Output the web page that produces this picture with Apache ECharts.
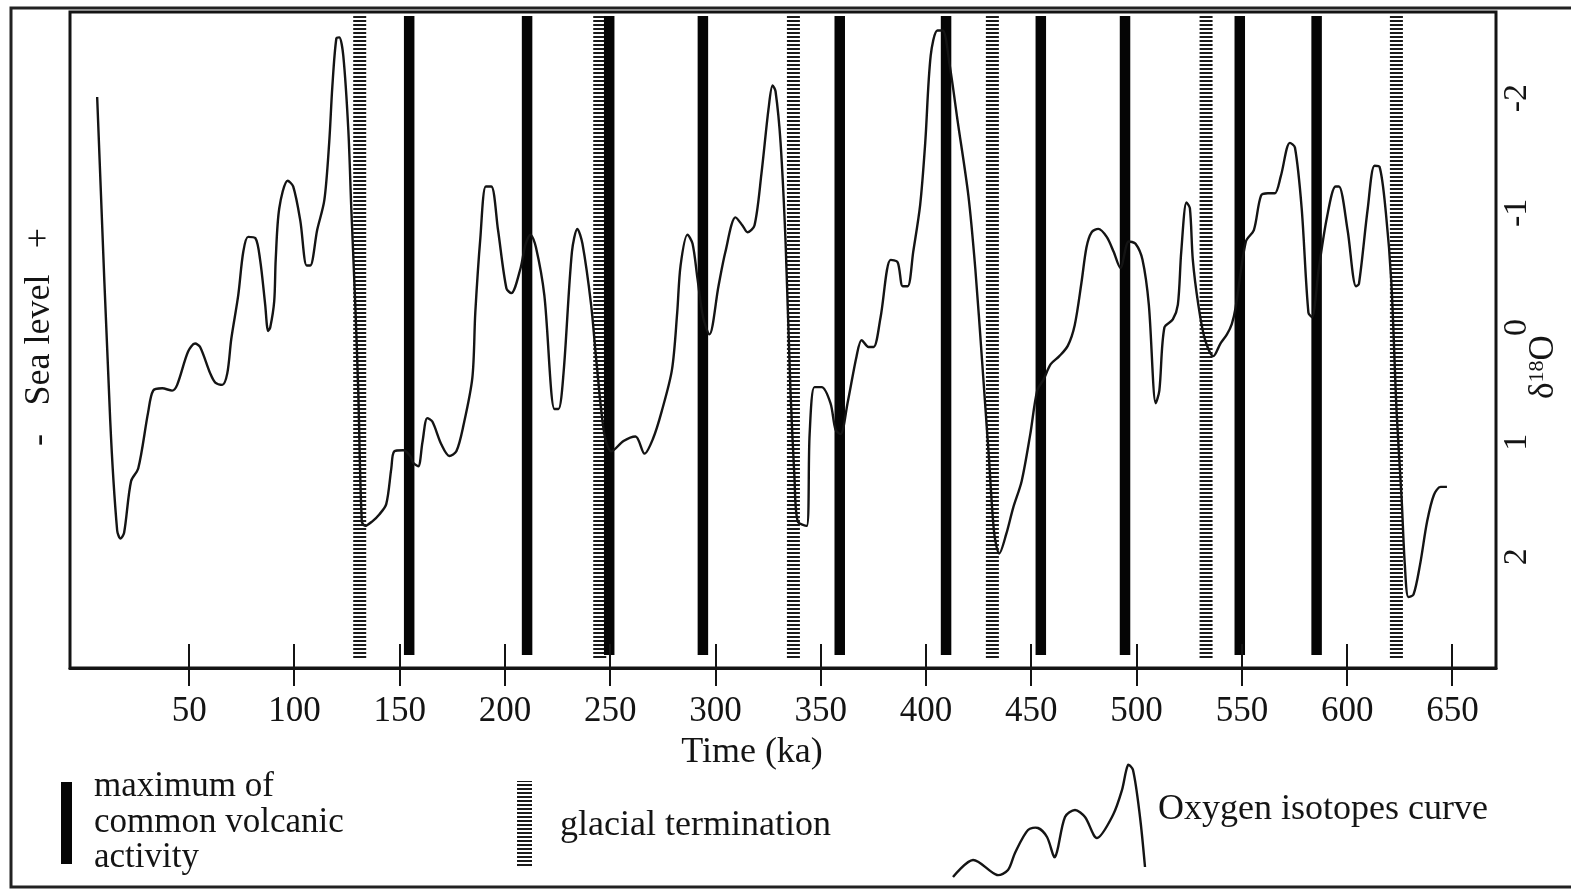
<!DOCTYPE html>
<html>
<head>
<meta charset="utf-8">
<script src="https://cdn.jsdelivr.net/npm/echarts@6/dist/echarts.min.js"></script>
<style>
html,body{margin:0;padding:0;background:#ffffff;}
#chart{width:1571px;height:891px;}
</style>
</head>
<body>
<div id="chart"></div>
<script>
// ---- data ----
var xTicks = [50,100,150,200,250,300,350,400,450,500,550,600,650];
var yTicks = [-2,-1,0,1,2];
// maximum of common volcanic activity (ka)
var volcanicMax = [154.5,210.5,249.5,294,359,409.5,454.5,494.5,549,585.5];
// glacial terminations (ka)
var glacialTermination = [131,245,337,431.5,533,623.4];
// oxygen isotope curve: age (ka) and delta18O
var isoAge = [6.3,12.5,15.8,17.4,19.1,22.4,25.8,30.5,32.9,37.2,41.9,44.3,49.5,52.8,55.2,60.0,62.4,65.7,68.1,70.0,73.3,75.7,78.0,81.4,83.7,86.1,87.5,88.5,90.4,91.1,92.8,96.8,99.4,102.8,105.8,107.5,110.8,114.2,116.5,118.0,119.9,121.3,123.2,125.6,127.0,128.9,130.3,132.0,133.6,137.0,140.3,143.6,146.0,147.4,151.7,155.0,156.4,158.8,160.8,163.1,165.5,169.8,173.6,176.9,180.2,184.5,185.9,188.3,190.9,193.5,196.7,200.7,203.0,207.3,209.7,212.1,214.7,218.7,223.5,225.4,227.8,231.8,234.4,236.8,240.9,243.4,247.2,250.6,256.3,262.0,266.3,270.3,274.3,279.3,281.8,283.4,286.7,289.1,291.4,294.1,297.1,301.4,304.7,309.5,312.8,315.2,318.5,321.8,325.2,327.1,328.5,330.9,333.3,335.6,337.5,339.0,343.3,344.7,347.0,350.4,354.6,357.0,359.4,362.7,367.0,369.4,372.7,375.1,378.4,383.2,386.5,388.9,391.3,393.9,397.2,399.6,402.2,405.4,407.9,411.2,415.0,420.1,423.4,426.6,429.8,432.4,434.8,438.1,441.4,445.4,449.5,452.8,455.9,459.2,463.3,467.3,470.6,473.8,476.2,478.6,481.8,485.8,489.1,492.3,496.3,499.5,502.8,505.8,509.1,510.8,513.2,517.2,519.6,521.2,523.7,525.3,526.7,529.3,532.4,536.5,539.8,542.9,545.2,547.0,551.9,555.7,559.1,562.4,565.6,568.5,572.8,575.2,578.4,581.6,583.3,586.5,590.4,594.5,596.1,600.2,604.2,605.6,609.8,613.0,615.4,618.4,621.0,623.5,625.9,627.4,629.1,631.5,634.6,638.0,641.2,644.4,647.4];
var isoValue = [-2.01,0.81,1.77,1.84,1.79,1.34,1.23,0.74,0.55,0.53,0.55,0.50,0.21,0.14,0.17,0.40,0.48,0.50,0.40,0.10,-0.28,-0.66,-0.79,-0.78,-0.59,-0.20,0.03,0.00,-0.23,-0.59,-1.04,-1.28,-1.23,-0.93,-0.54,-0.54,-0.85,-1.11,-1.61,-2.10,-2.52,-2.53,-2.37,-1.72,-1.04,-0.20,0.55,1.69,1.73,1.69,1.63,1.54,1.23,1.08,1.07,1.12,1.18,1.21,1.00,0.79,0.82,1.02,1.12,1.08,0.86,0.44,-0.13,-0.78,-1.23,-1.23,-0.85,-0.34,-0.30,-0.51,-0.72,-0.81,-0.70,-0.28,0.71,0.71,0.40,-0.66,-0.86,-0.73,-0.20,0.29,0.93,1.08,0.99,0.95,1.10,0.97,0.74,0.37,-0.13,-0.54,-0.81,-0.73,-0.43,-0.09,0.06,-0.36,-0.66,-0.96,-0.89,-0.83,-0.89,-1.34,-1.91,-2.11,-2.06,-1.61,-0.73,0.55,1.31,1.69,1.73,0.93,0.52,0.52,0.66,0.89,0.93,0.66,0.25,0.11,0.17,0.17,-0.09,-0.59,-0.57,-0.36,-0.36,-0.66,-1.07,-1.61,-2.37,-2.59,-2.59,-2.29,-1.80,-1.15,-0.51,0.29,1.12,1.80,1.97,1.80,1.57,1.34,0.93,0.55,0.45,0.32,0.25,0.16,-0.02,-0.39,-0.70,-0.83,-0.86,-0.79,-0.66,-0.52,-0.75,-0.73,-0.59,-0.20,0.66,0.55,0.00,-0.07,-0.20,-0.66,-1.09,-1.04,-0.59,-0.20,0.10,0.25,0.14,0.06,-0.03,-0.17,-0.75,-0.85,-1.15,-1.17,-1.17,-1.32,-1.61,-1.57,-1.04,-0.13,-0.09,-0.51,-0.96,-1.23,-1.23,-0.85,-0.36,-0.38,-1.04,-1.41,-1.40,-1.00,-0.39,0.74,1.50,2.07,2.35,2.33,2.07,1.69,1.46,1.39,1.39];

// ---- styles ----
var FONT = '"Liberation Serif", "DejaVu Serif", serif';
var INK = '#141414';

function hatchPattern(){
  var c = document.createElement('canvas');
  c.width = 4; c.height = 4;
  var g = c.getContext('2d');
  g.fillStyle = '#ffffff'; g.fillRect(0,0,4,4);
  g.fillStyle = '#1a1a1a'; g.fillRect(0,0,4,2);
  return c;
}
var hatch = hatchPattern();

var curveData = isoAge.map(function(a,i){ return [a, isoValue[i]]; });

function bandRenderer(width, fill, topPad, bottomPad){
  return function(params, api){
    var cs = params.coordSys;
    var x = api.coord([api.value(0), 0])[0];
    return {
      type: 'rect',
      shape: {x: x - width/2, y: cs.y + topPad, width: width, height: cs.height - topPad - bottomPad},
      style: {fill: fill}
    };
  };
}

var chart = echarts.init(document.getElementById('chart'), null, {renderer: 'canvas'});

var GRID = {left: 70, right: 75, top: 12, bottom: 223};

var option = {
  backgroundColor: '#ffffff',
  animation: false,
  grid: {left: GRID.left, right: GRID.right, top: GRID.top, bottom: GRID.bottom, show: true, borderColor: INK, borderWidth: 3, backgroundColor: 'transparent'},
  xAxis: [{
    type: 'value', min: -6.6, max: 670.7, position: 'bottom',
    axisLine: {show: true, onZero: false, lineStyle: {color: INK, width: 3}},
    axisTick: {show: false},
    axisLabel: {show: true, customValues: xTicks, margin: 26, fontSize: 35, fontFamily: FONT, color: INK},
    splitLine: {show: false}
  }],
  yAxis: {
    type: 'value', inverse: true, min: -2.751, max: 2.969, position: 'right',
    axisLine: {show: true, onZero: false, lineStyle: {color: INK, width: 2}},
    axisTick: {show: false},
    axisLabel: {show: true, customValues: yTicks, rotate: 90, margin: 4, fontSize: 34, fontFamily: FONT, color: INK,
      formatter: function(v){ return String(v); }},
    splitLine: {show: false}
  },
  series: [{
    type: 'custom', name: 'glacial termination', xAxisIndex: 0,
    renderItem: bandRenderer(13, {image: hatch, repeat: 'repeat'}, 4, 10),
    data: glacialTermination.map(function(v){ return [v]; }),
    encode: {x: 0}, z: 2, silent: true
  },{
    type: 'custom', name: 'maximum of common volcanic activity', xAxisIndex: 0,
    renderItem: bandRenderer(10.5, '#050505', 4, 13),
    data: volcanicMax.map(function(v){ return [v]; }),
    encode: {x: 0}, z: 3, silent: true
  },{
    type: 'line', name: 'Oxygen isotopes curve', xAxisIndex: 0,
    data: curveData, smooth: 0.3, symbol: 'none',
    lineStyle: {color: INK, width: 2.4}, z: 5, silent: true
  }],
  graphic: [
    // outer frame
    {type: 'rect', id: 'frame', shape: {x: 11, y: 8, width: 1575, height: 879}, style: {fill: null, stroke: '#222', lineWidth: 3}, silent: true},
    // axis titles
    {type: 'text', id: 't1', x: 752, y: 753, style: {text: 'Time (ka)', font: '36px ' + FONT, fill: INK, align: 'center', verticalAlign: 'middle'}},
    {type: 'text', id: 't2', x: 40, y: 440, rotation: Math.PI/2, style: {text: '-', font: '36px ' + FONT, fill: INK, align: 'center', verticalAlign: 'middle'}},
    {type: 'text', id: 't3', x: 40, y: 340, rotation: Math.PI/2, style: {text: 'Sea level', font: '36px ' + FONT, fill: INK, align: 'center', verticalAlign: 'middle'}},
    {type: 'text', id: 't4', x: 40, y: 238, rotation: Math.PI/2, style: {text: '+', font: '36px ' + FONT, fill: INK, align: 'center', verticalAlign: 'middle'}},
    {type: 'text', id: 't5', x: 1544, y: 367, rotation: Math.PI/2, style: {
      text: '{a|δ}{s|18}{a|O}', align: 'center', verticalAlign: 'middle',
      rich: {a: {font: '35px ' + FONT, fill: INK, lineHeight: 40}, s: {font: '22px ' + FONT, fill: INK, lineHeight: 40, padding: [0,0,14,0]}}
    }},
    // legend
    {type: 'rect', id: 'l1', shape: {x: 61, y: 782, width: 11, height: 82}, style: {fill: '#050505'}},
    {type: 'text', id: 'l2', x: 94, y: 787, style: {text: 'maximum of', font: '35px ' + FONT, fill: INK, align: 'left', verticalAlign: 'middle'}},
    {type: 'text', id: 'l3', x: 94, y: 823, style: {text: 'common volcanic', font: '35px ' + FONT, fill: INK, align: 'left', verticalAlign: 'middle'}},
    {type: 'text', id: 'l4', x: 94, y: 858, style: {text: 'activity', font: '35px ' + FONT, fill: INK, align: 'left', verticalAlign: 'middle'}},
    {type: 'rect', id: 'l5', shape: {x: 517, y: 781, width: 15, height: 85}, style: {fill: {image: hatch, repeat: 'repeat'}}},
    {type: 'text', id: 'l6', x: 560, y: 826, style: {text: 'glacial termination', font: '36px ' + FONT, fill: INK, align: 'left', verticalAlign: 'middle'}},
    {type: 'polyline', id: 'l7', shape: {smooth: 0.3, points: [[953,877],[973,860],[997,875],[1008,870],[1015,853],[1028,830],[1038,828],[1047,837],[1055,857],[1065,817],[1075,810],[1085,817],[1097,838],[1113,815],[1122,790],[1128,765],[1133,770],[1140,817],[1145,867]]},
      style: {stroke: INK, lineWidth: 2.4, fill: null}},
    {type: 'text', id: 'l8', x: 1158, y: 810, style: {text: 'Oxygen isotopes curve', font: '36px ' + FONT, fill: INK, align: 'left', verticalAlign: 'middle'}}
  ]
};
chart.setOption(option);

// x-axis ticks crossing the axis line, positioned through the axis scale
var axisY = 891 - GRID.bottom;
var tickEls = xTicks.map(function(v, i){
  var px = chart.convertToPixel({xAxisIndex: 0}, v);
  return {type: 'rect', id: 'xtick' + i, shape: {x: Math.round(px) - 1, y: axisY - 24, width: 2, height: 42},
    style: {fill: INK}, z: 100, zlevel: 1, silent: true};
});
chart.setOption({graphic: tickEls});
</script>
</body>
</html>
